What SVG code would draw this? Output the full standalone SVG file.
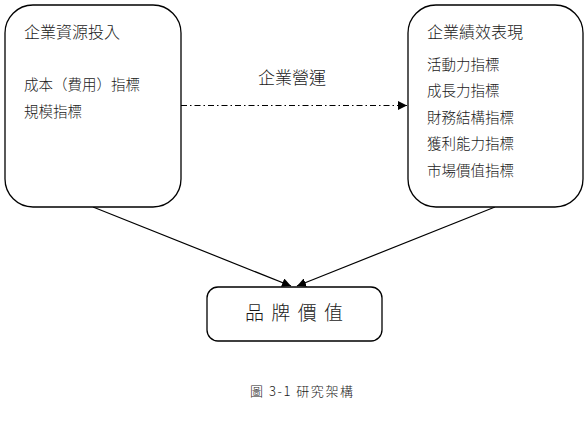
<svg xmlns="http://www.w3.org/2000/svg" width="588" height="441" viewBox="0 0 588 441">
  <style>
    .box { fill: #ffffff; stroke: #000000; stroke-width: 1.3; }
    .txt { font-family: "Noto Sans CJK TC", "Noto Sans CJK SC", sans-serif; fill: #1a1a1a; font-weight: 300; }
    .title { font-size: 16px; }
    .item { font-size: 14.5px; }
    .link { stroke: #000000; stroke-width: 1.2; fill: none; }
    .dashdot { stroke-dasharray: 6 3 1.5 3; }
  </style>
  <defs>
    <marker id="arrow" viewBox="0 0 10 10" refX="10" refY="5" markerWidth="9" markerHeight="9" markerUnits="userSpaceOnUse" orient="auto">
      <path d="M0,0 L10,5 L0,10 z" fill="#000000"/>
    </marker>
  </defs>
  <rect width="588" height="441" fill="#ffffff"/>

  <g id="connectors">
    <line class="link dashdot" x1="181" y1="105.5" x2="407" y2="105.5" marker-end="url(#arrow)"/>
    <line class="link" x1="93" y1="207" x2="291" y2="286" marker-end="url(#arrow)"/>
    <line class="link" x1="495" y1="207" x2="297" y2="286" marker-end="url(#arrow)"/>
  </g>

  <g id="label-operation">
    <text class="txt" x="292" y="84" font-size="17" text-anchor="middle">企業營運</text>
  </g>

  <g id="node-input">
    <rect class="box" x="5" y="5" width="176" height="202" rx="28" ry="28"/>
    <text class="txt title" x="24" y="38">企業資源投入</text>
    <text class="txt item" x="24" y="90">成本（費用）指標</text>
    <text class="txt item" x="24" y="117">規模指標</text>
  </g>

  <g id="node-performance">
    <rect class="box" x="408" y="5" width="175" height="202" rx="28" ry="28"/>
    <text class="txt title" x="427" y="38">企業績效表現</text>
    <text class="txt item" x="427" y="70">活動力指標</text>
    <text class="txt item" x="427" y="96">成長力指標</text>
    <text class="txt item" x="427" y="123">財務結構指標</text>
    <text class="txt item" x="427" y="149">獲利能力指標</text>
    <text class="txt item" x="427" y="176">市場價值指標</text>
  </g>

  <g id="node-value">
    <rect class="box" x="207" y="287" width="175" height="54" rx="11" ry="11"/>
    <text class="txt" x="245" y="320" font-size="19" textLength="98" lengthAdjust="spacing">品 牌 價 值</text>
  </g>

  <g id="caption">
    <text class="txt" x="250" y="396" font-size="13" textLength="103" lengthAdjust="spacing">圖 3-1 研究架構</text>
  </g>
</svg>
